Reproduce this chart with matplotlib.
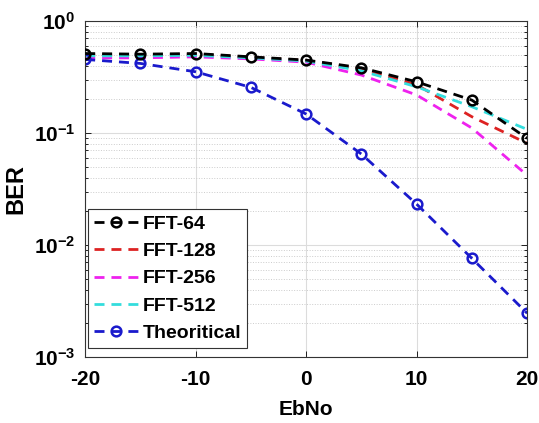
import numpy as np
import matplotlib
matplotlib.use('Agg')
from matplotlib import pyplot as plt
from matplotlib.ticker import LogLocator, NullFormatter

plt.rcParams['font.family'] = 'Liberation Sans'
plt.rcParams['font.weight'] = 'bold'
plt.rcParams['axes.unicode_minus'] = False
plt.rcParams['mathtext.fontset'] = 'custom'
plt.rcParams['mathtext.rm'] = 'Liberation Sans:bold'
plt.rcParams['mathtext.it'] = 'Liberation Sans:bold'
plt.rcParams['mathtext.bf'] = 'Liberation Sans:bold'

# data
EbNo = [-20, -15, -10, -5, 0, 5, 10, 15, 20]
fft64 = [0.514, 0.507, 0.514, 0.48, 0.449, 0.383, 0.287, 0.197, 0.0897]
fft128 = [0.50, 0.50, 0.505, 0.475, 0.445, 0.375, 0.27, 0.14, 0.081]
fft256 = [0.47, 0.47, 0.48, 0.46, 0.43, 0.33, 0.219, 0.111, 0.042]
fft512 = [0.49, 0.49, 0.495, 0.47, 0.44, 0.36, 0.259, 0.172, 0.108]
theory = [0.455, 0.419, 0.353, 0.256, 0.148, 0.065, 0.0232, 0.0076, 0.00246]

labels = ['FFT-64', 'FFT-128', 'FFT-256', 'FFT-512', 'Theoritical']

fig = plt.figure(figsize=(5.39, 4.23), dpi=100)
ax = fig.add_axes([0.158, 0.156, 0.82, 0.794])

dash = (3.6, 2.5)
kw = dict(lw=2, dashes=dash)
ax.semilogy(EbNo, fft64, color='k', marker='o', ms=7, mew=1.8, mfc='none', zorder=5, label=labels[0], **kw)
ax.semilogy(EbNo, fft128, color='#dd2222', label=labels[1], **kw)
ax.semilogy(EbNo, fft256, color='#ee22ee', label=labels[2], **kw)
ax.semilogy(EbNo, fft512, color='#33dddd', label=labels[3], **kw)
ax.semilogy(EbNo, theory, color='#1a1acc', marker='o', ms=7, mew=1.8, mfc='none', label=labels[4], **kw)

ax.set_xlim(-20, 20)
ax.set_ylim(1e-3, 1)
ax.set_xticks([-20, -10, 0, 10, 20])
ax.yaxis.set_major_locator(LogLocator(base=10, numticks=10))
ax.yaxis.set_minor_locator(LogLocator(base=10, subs=np.arange(2, 10), numticks=10))
ax.yaxis.set_minor_formatter(NullFormatter())

ax.grid(True, which='major', color='#dcdcdc', lw=0.8, ls='-')
ax.grid(True, which='minor', axis='y', color='#cccccc', lw=0.7, ls=':')
ax.tick_params(which='both', direction='in', top=True, right=True, labelsize=15, width=0.6)
ax.tick_params(which='major', length=4)
ax.tick_params(which='minor', length=2)
ax.tick_params(axis='x', pad=9)
ax.tick_params(axis='y', pad=7)
for s in ax.spines.values():
    s.set_color('#333333')
    s.set_linewidth(0.8)

ax.set_xlabel('EbNo', fontsize=15, fontweight='bold', labelpad=8)
ax.set_ylabel('BER', fontsize=17, fontweight='bold', labelpad=5)

leg = ax.legend(loc='upper left', bbox_to_anchor=(0.006, 0.44), fontsize=14,
                handlelength=2.3, handletextpad=0.2, labelspacing=0.5,
                borderpad=0.3, borderaxespad=0, fancybox=False, framealpha=1)
leg.get_frame().set_edgecolor('#333333')
leg.get_frame().set_linewidth(0.8)

fig.savefig('out.png', dpi=100)
